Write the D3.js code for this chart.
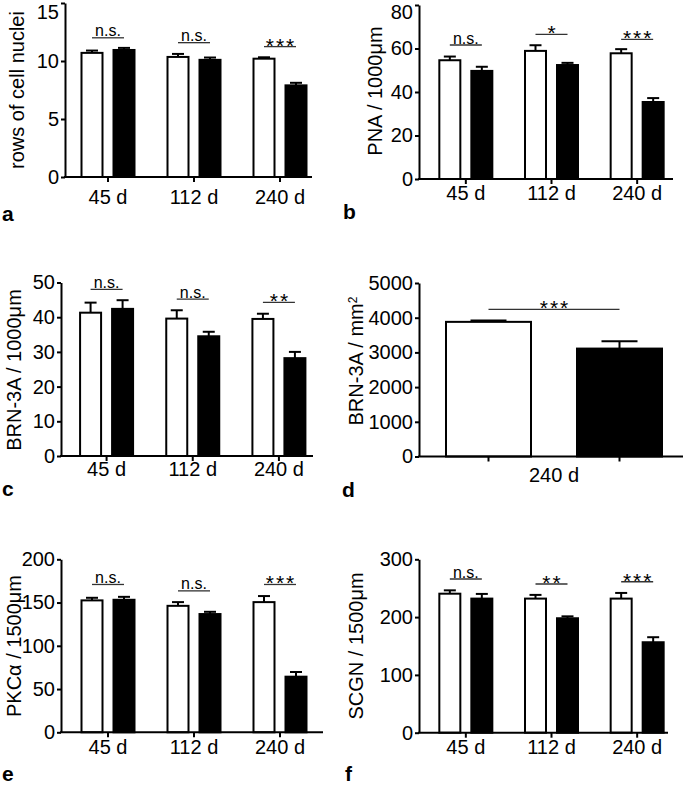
<!DOCTYPE html>
<html>
<head>
<meta charset="utf-8">
<script src="https://cdn.jsdelivr.net/npm/d3@7"></script>
<style>
  html, body { margin: 0; padding: 0; background: #fff; }
  svg { display: block; font-family: "Liberation Sans", Arial, sans-serif; }
</style>
</head>
<body>
<svg id="chart" width="685" height="786"></svg>
<script>
// ---------------- DATA ----------------
const categories = ["45 d", "112 d", "240 d"];
const series = ["control", "mutant"];

// a: rows of cell nuclei
const aCtrl = [10.7, 10.35, 10.2];
const aCtrlErr = [0.2, 0.26, 0.12];
const aMut = [10.95, 10.1, 7.9];
const aMutErr = [0.18, 0.2, 0.22];
const aSig = ["n.s.", "n.s.", "***"];
const aSigLevel = [12.0, 11.58, 11.24];
const aTicks = [0, 5, 10, 15];

// b: PNA / 1000µm
const bCtrl = [54.6, 58.9, 57.8];
const bCtrlErr = [1.7, 2.6, 1.9];
const bMut = [49.7, 52.4, 35.4];
const bMutErr = [1.9, 1.0, 1.8];
const bSig = ["n.s.", "*", "***"];
const bSigLevel = [61.6, 66.5, 64.2];
const bTicks = [0, 20, 40, 60, 80];

// c: BRN-3A / 1000µm
const cCtrl = [41.3, 39.6, 39.5];
const cCtrlErr = [2.9, 2.4, 1.5];
const cMut = [42.4, 34.5, 28.2];
const cMutErr = [2.5, 1.3, 1.8];
const cSig = ["n.s.", "n.s.", "**"];
const cSigLevel = [48.0, 45.2, 44.3];
const cTicks = [0, 10, 20, 30, 40, 50];

// d: BRN-3A / mm²
const dCategories = ["240 d"];
const dCtrl = [3880];
const dCtrlErr = [40];
const dMut = [3110];
const dMutErr = [210];
const dSig = ["***"];
const dSigLevel = [4242];
const dTicks = [0, 1000, 2000, 3000, 4000, 5000];

// e: PKCα / 1500µm
const eCtrl = [152.5, 146.2, 150.5];
const eCtrlErr = [3.0, 4.3, 7.0];
const eMut = [153.2, 136.7, 64.3];
const eMutErr = [3.4, 2.6, 5.4];
const eSig = ["n.s.", "n.s.", "***"];
const eSigLevel = [170.9, 163.5, 170.9];
const eTicks = [0, 50, 100, 150, 200];

// f: SCGN / 1500µm
const fCtrl = [240.5, 232, 232];
const fCtrlErr = [5.8, 6.4, 9.8];
const fMut = [232, 198, 156.5];
const fMutErr = [8.1, 3.3, 8.7];
const fSig = ["n.s.", "**", "***"];
const fSigLevel = [265.9, 257.3, 261.2];
const fTicks = [0, 100, 200, 300];

// ---------------- LAYOUT ----------------
const panels = [
  { letter: "a", cats: categories, ctrl: aCtrl, ctrlErr: aCtrlErr, mut: aMut, mutErr: aMutErr,
    sig: aSig, sigLevel: aSigLevel, ticks: aTicks, yRange: [177, 3], axisX: 65, xRange: [65, 323], xEnd: 312,
    title: ["rows of cell nuclei"], titleX: 24, titleY: 90, labelOff: 12.5,
    letterX: 2, letterY: 221, barW: 21, capW: 12, inner: 16 },
  { letter: "b", cats: categories, ctrl: bCtrl, ctrlErr: bCtrlErr, mut: bMut, mutErr: bMutErr,
    sig: bSig, sigLevel: bSigLevel, ticks: bTicks, yRange: [179, 5], axisX: 419, xRange: [423, 680], xEnd: 673,
    title: ["PNA / 1000μm"], titleX: 382, titleY: 91, labelOff: 6.7,
    letterX: 343, letterY: 219, barW: 21, capW: 12, inner: 16 },
  { letter: "c", cats: categories, ctrl: cCtrl, ctrlErr: cCtrlErr, mut: cMut, mutErr: cMutErr,
    sig: cSig, sigLevel: cSigLevel, ticks: cTicks, yRange: [456, 282.5], axisX: 61, xRange: [63.5, 322], xEnd: 313,
    title: ["BRN-3A / 1000μm"], titleX: 21, titleY: 370, labelOff: 5.7,
    letterX: 2, letterY: 496, barW: 21, capW: 12, inner: 16 },
  { letter: "d", cats: dCategories, ctrl: dCtrl, ctrlErr: dCtrlErr, mut: dMut, mutErr: dMutErr,
    sig: dSig, sigLevel: dSigLevel, ticks: dTicks, yRange: [456.5, 283], axisX: 419, xRange: [423, 685], xEnd: 683,
    title: ["BRN-3A / mm", "2"], titleX: 363, titleY: 361, labelOff: 11.3,
    letterX: 342, letterY: 497, barW: 85, capW: 36, inner: 65.5, tickAtBars: true },
  { letter: "e", cats: categories, ctrl: eCtrl, ctrlErr: eCtrlErr, mut: eMut, mutErr: eMutErr,
    sig: eSig, sigLevel: eSigLevel, ticks: eTicks, yRange: [732.3, 559.3], axisX: 61, xRange: [65, 323], xEnd: 323,
    title: ["PKCα / 1500μm"], titleX: 21, titleY: 646, labelOff: 7.7,
    letterX: 2, letterY: 781, barW: 21, capW: 12, inner: 16 },
  { letter: "f", cats: categories, ctrl: fCtrl, ctrlErr: fCtrlErr, mut: fMut, mutErr: fMutErr,
    sig: fSig, sigLevel: fSigLevel, ticks: fTicks, yRange: [732.7, 559.3], axisX: 419, xRange: [423, 680], xEnd: 668,
    title: ["SCGN / 1500μm"], titleX: 363, titleY: 646, labelOff: 7.3,
    letterX: 345, letterY: 781, barW: 21, capW: 12, inner: 16 }
];

const svg = d3.select("#chart");
const FONT = 20;

panels.forEach(p => {
  const g = svg.append("g");
  const tickMax = p.ticks[p.ticks.length - 1];
  const y = d3.scaleLinear().domain([0, tickMax]).range(p.yRange);
  const x = d3.scaleBand().domain(p.cats).range(p.xRange).padding(0);
  const inner = d3.scalePoint().domain(series).range([-p.inner, p.inner]);
  const y0 = y(0);

  const rows = p.cats.map((c, i) => [
    { cat: c, s: "control", v: p.ctrl[i], e: p.ctrlErr[i] },
    { cat: c, s: "mutant", v: p.mut[i], e: p.mutErr[i] }
  ]).flat();
  const cx = d => x(d.cat) + x.bandwidth() / 2 + inner(d.s);

  // bars
  g.selectAll("rect.bar").data(rows).join("rect")
    .attr("class", "bar")
    .attr("x", d => cx(d) - p.barW / 2)
    .attr("y", d => y(d.v))
    .attr("width", p.barW)
    .attr("height", d => y0 - y(d.v))
    .attr("fill", d => d.s === "control" ? "#fff" : "#000")
    .attr("stroke", "#000")
    .attr("stroke-width", 2);

  // error bars (upper only)
  g.selectAll("line.err").data(rows).join("line")
    .attr("class", "err")
    .attr("x1", cx).attr("x2", cx)
    .attr("y1", d => y(d.v)).attr("y2", d => y(d.v + d.e))
    .attr("stroke", "#000").attr("stroke-width", 2);
  g.selectAll("line.cap").data(rows).join("line")
    .attr("class", "cap")
    .attr("x1", d => cx(d) - p.capW / 2).attr("x2", d => cx(d) + p.capW / 2)
    .attr("y1", d => y(d.v + d.e)).attr("y2", d => y(d.v + d.e))
    .attr("stroke", "#000").attr("stroke-width", 2);

  // y axis
  const yAxis = d3.axisLeft(y).tickValues(p.ticks).tickFormat(d3.format("d"))
    .tickSize(4).tickSizeOuter(0).tickPadding(2);
  const ya = g.append("g").attr("transform", `translate(${p.axisX},0)`).call(yAxis);
  ya.select(".domain").attr("stroke-width", 2);
  ya.selectAll(".tick line").attr("stroke-width", 2);
  ya.selectAll("text").attr("font-size", FONT).attr("font-family", null).attr("fill", "#000");
  // keep top tick labels inside the picture
  ya.selectAll(".tick").each(function () {
    const tk = d3.select(this);
    const txt = tk.select("text");
    const bb = txt.node().getBBox();
    const ty = y(tk.datum());
    const top = ty + bb.y;
    if (top < 0) txt.attr("y", -top + 0.5);
  });

  // x axis line
  g.append("line")
    .attr("x1", p.axisX - 1).attr("x2", p.xEnd)
    .attr("y1", y0).attr("y2", y0)
    .attr("stroke", "#000").attr("stroke-width", 2);

  // x ticks
  const tickXs = p.tickAtBars ? rows.map(cx) : p.cats.map(c => x(c) + x.bandwidth() / 2);
  g.selectAll("line.xt").data(tickXs).join("line")
    .attr("class", "xt")
    .attr("x1", d => d).attr("x2", d => d)
    .attr("y1", y0).attr("y2", y0 + 5)
    .attr("stroke", "#000").attr("stroke-width", 2);

  // x labels
  g.selectAll("text.xl").data(p.cats).join("text")
    .attr("class", "xl")
    .attr("x", c => x(c) + x.bandwidth() / 2)
    .attr("y", y0 + p.labelOff)
    .attr("dy", "0.71em")
    .attr("text-anchor", "middle")
    .attr("font-size", FONT)
    .text(c => c);

  // significance
  p.cats.forEach((c, i) => {
    const xa = x(c) + x.bandwidth() / 2 + inner("control");
    const xb = x(c) + x.bandwidth() / 2 + inner("mutant");
    const ly = y(p.sigLevel[i]);
    g.append("line")
      .attr("x1", xa).attr("x2", xb).attr("y1", ly).attr("y2", ly)
      .attr("stroke", "#333").attr("stroke-width", 1.3);
    const lab = p.sig[i];
    const star = lab.indexOf("*") >= 0;
    g.append("text")
      .attr("x", (xa + xb) / 2 + (star ? 1 : 0))
      .attr("y", star ? ly + 6 : ly - 1.5)
      .attr("text-anchor", "middle")
      .attr("font-size", star ? 21 : 16)
      .attr("letter-spacing", star ? 2 : 0)
      .text(lab);
  });

  // y title
  const t = g.append("text")
    .attr("transform", `translate(${p.titleX},${p.titleY}) rotate(-90)`)
    .attr("text-anchor", "middle")
    .attr("font-size", FONT);
  t.append("tspan").text(p.title[0]);
  if (p.title[1]) {
    t.append("tspan").attr("dy", "-0.5em").attr("font-size", 12).text(p.title[1]);
  }

  // panel letter
  svg.append("text")
    .attr("x", p.letterX).attr("y", p.letterY)
    .attr("font-size", 21).attr("font-weight", "bold")
    .text(p.letter);
});
</script>
</body>
</html>
